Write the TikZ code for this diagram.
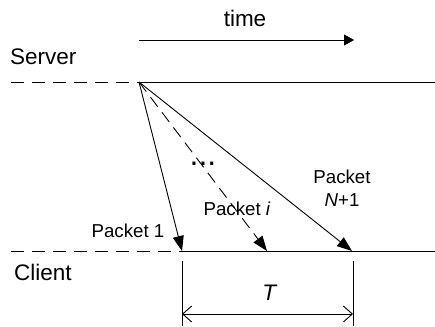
\documentclass[tikz,border=0pt]{standalone}
\usepackage{fontspec}
\setmainfont{Liberation Sans}
\usetikzlibrary{arrows.meta}
\begin{document}
\begin{tikzpicture}[x=1pt,y=-1pt,
  big/.style={font=\fontsize{22.5}{26}\selectfont, inner sep=0pt, anchor=base},
  small/.style={font=\fontsize{18.7}{23}\selectfont, inner sep=0pt, anchor=base, align=center},
  lane/.style={line width=0.9pt},
  lanedash/.style={line width=0.9pt, dash pattern=on 13pt off 8pt},
  pkt/.style={line width=0.9pt, -{Triangle[length=15pt,width=11pt]}},
  pktdash/.style={line width=0.9pt, dash pattern=on 12pt off 7pt, -{Triangle[length=15pt,width=11pt]}},
  span/.style={line width=0.9pt, {Straight Barb[length=9pt,width=16pt]}-{Straight Barb[length=9pt,width=16pt]}}
]
\useasboundingbox (0,0) rectangle (435,326);
% coordinates
\coordinate (s0) at (11,82);
\coordinate (apex) at (139,82);
\coordinate (s1) at (435,82);
\coordinate (c0) at (11,251);
\coordinate (p1) at (182,251);
\coordinate (pi) at (267,251);
\coordinate (pn) at (352,251);
\coordinate (c1) at (435,251);
\coordinate (t0) at (139,40);
\coordinate (t1) at (354,40);
\coordinate (v1a) at (182,261);
\coordinate (v1b) at (182,326);
\coordinate (v2a) at (353,261);
\coordinate (v2b) at (353,326);
\coordinate (ta) at (182,314);
\coordinate (tb) at (353,314);
% labels
\node[big] (time) at (245,27) {time};
\node[big, anchor=base west] (server) at (10,65) {Server};
\node[big, anchor=base west] (client) at (14,280) {Client};
\node[small] (lp1) at (128,237) {Packet 1};
\node[small] (lpi) at (237,215) {Packet \textit{i}};
\node[small] (lpn) at (342,206) {Packet\\\textit{N}+1};
\node[font=\fontsize{32}{32}\selectfont, inner sep=0pt, anchor=base] (dots) at (203,165) {...};
\node[big] (T) at (270,300) {\textit{T}};
% time arrow
\draw[line width=0.9pt, -{Triangle[length=10pt,width=11pt]}] (t0) -- (t1);
% server / client lines
\draw[lanedash] (s0) -- (apex);
\draw[lane] (apex) -- (s1);
\draw[lanedash] (c0) -- (p1);
\draw[lane] (p1) -- (c1);
% packets
\draw[pkt] (apex) -- (p1);
\draw[pktdash] (apex) -- (pi);
\draw[pkt] (apex) -- (pn);
% T span
\draw[lane] (v1a) -- (v1b);
\draw[lane] (v2a) -- (v2b);
\draw[span] (ta) -- (tb);
\end{tikzpicture}
\end{document}
